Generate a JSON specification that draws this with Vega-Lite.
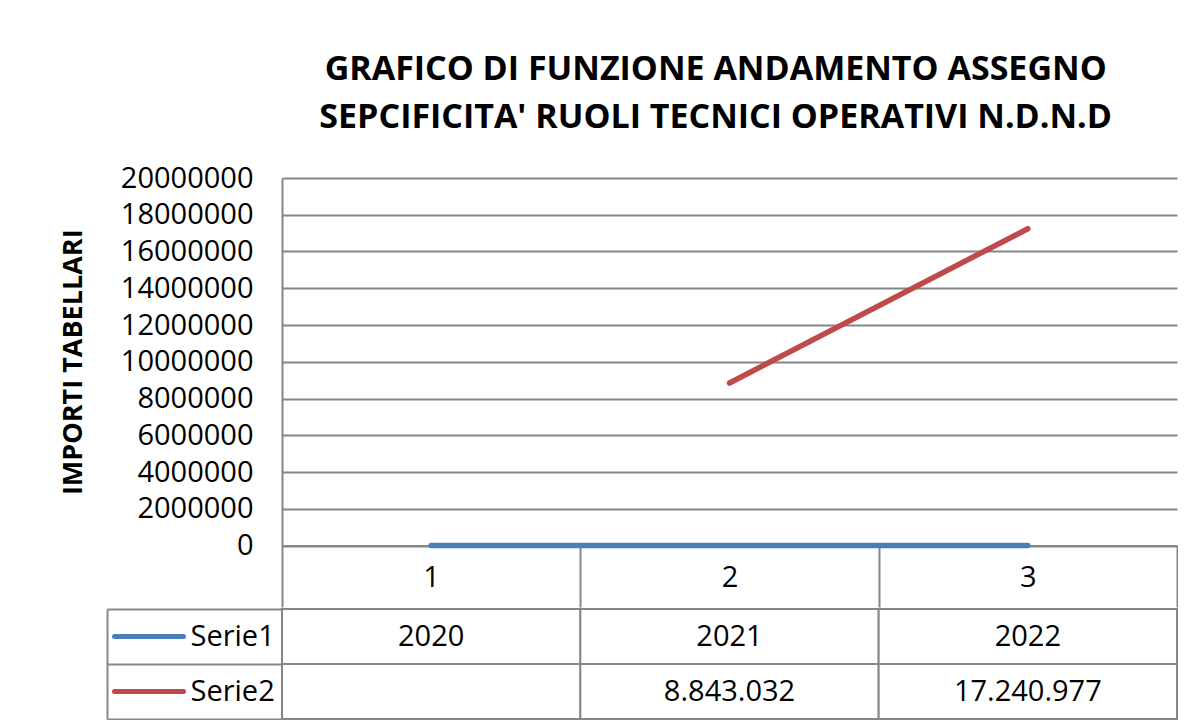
{
  "$schema": "https://vega.github.io/schema/vega-lite/v6.json",
  "padding": {"left": 59, "top": 53, "right": 0, "bottom": 0},
  "background": "white",
  "title": {
    "text": ["GRAFICO DI FUNZIONE ANDAMENTO ASSEGNO", "SEPCIFICITA' RUOLI TECNICI OPERATIVI N.D.N.D"],
    "font": "Open Sans",
    "fontWeight": "bold",
    "fontSize": 34,
    "lineHeight": 48,
    "color": "#000000",
    "anchor": "middle",
    "dx": 97,
    "offset": 29
  },
  "datasets": {
    "rows": [
      {"cat": "1", "serie": "Serie1", "value": 2020, "label": "2020"},
      {"cat": "2", "serie": "Serie1", "value": 2021, "label": "2021"},
      {"cat": "3", "serie": "Serie1", "value": 2022, "label": "2022"},
      {"cat": "1", "serie": "Serie2", "value": null, "label": ""},
      {"cat": "2", "serie": "Serie2", "value": 8843032, "label": "8.843.032"},
      {"cat": "3", "serie": "Serie2", "value": 17240977, "label": "17.240.977"}
    ]
  },
  "spacing": 0,
  "vconcat": [
    {
      "width": 895,
      "height": 367.5,
      "data": {"name": "rows"},
      "mark": {"type": "line", "strokeWidth": 5.5, "strokeCap": "round"},
      "encoding": {
        "x": {
          "field": "cat", "type": "nominal",
          "scale": {"type": "band", "paddingInner": 0, "paddingOuter": 0},
          "axis": {
            "title": null, "orient": "bottom", "labelAngle": 0,
            "domain": true, "domainColor": "#868686", "domainWidth": 2,
            "ticks": true, "tickBand": "extent", "tickSize": 61.5, "tickColor": "#868686", "tickWidth": 2,
            "labelFont": "Open Sans", "labelFontSize": 29, "labelColor": "#000000",
            "labelBaseline": "middle", "labelPadding": -29.5, "grid": false
          }
        },
        "y": {
          "field": "value", "type": "quantitative",
          "scale": {"domain": [0, 20000000], "nice": false},
          "axis": {
            "title": "IMPORTI TABELLARI", "titleFont": "Open Sans", "titleFontWeight": "bold",
            "titleFontSize": 27, "titleColor": "#000000", "titlePadding": 33,
            "values": [0, 2000000, 4000000, 6000000, 8000000, 10000000, 12000000, 14000000, 16000000, 18000000, 20000000],
            "format": "d",
            "labelFont": "Open Sans", "labelFontSize": 29, "labelColor": "#000000", "labelPadding": 29,
            "ticks": false, "domain": true, "domainColor": "#868686", "domainWidth": 2,
            "grid": true, "gridColor": "#868686", "gridWidth": 2
          }
        },
        "color": {
          "field": "serie", "type": "nominal",
          "scale": {"domain": ["Serie1", "Serie2"], "range": ["#4A7EBB", "#BE4B48"]},
          "legend": null
        }
      }
    },
    {
      "width": 895,
      "height": 110,
      "data": {"name": "rows"},
      "layer": [
        {
          "mark": {"type": "rect", "fill": "white", "stroke": "#868686", "strokeWidth": 2},
          "encoding": {
            "x": {"field": "cat", "type": "nominal", "scale": {"paddingInner": 0, "paddingOuter": 0}, "axis": null},
            "y": {
              "field": "serie", "type": "nominal",
              "scale": {"domain": ["Serie1", "Serie2"], "paddingInner": 0, "paddingOuter": 0},
              "axis": {
                "orient": "left", "title": null, "domain": false, "grid": false,
                "offset": 99, "ticks": true, "tickSize": 69, "tickWidth": 5, "tickCap": "round",
                "tickColor": {"condition": {"test": "datum.value === 'Serie1'", "value": "#4A7EBB"}, "value": "#BE4B48"},
                "labelAlign": "left", "labelBaseline": "middle", "labelPadding": -76,
                "labelFont": "Open Sans", "labelFontSize": 29, "labelColor": "#000000"
              }
            }
          }
        },
        {
          "mark": {"type": "text", "font": "Open Sans", "fontSize": 29, "color": "#000000"},
          "encoding": {
            "x": {"field": "cat", "type": "nominal", "scale": {"paddingInner": 0, "paddingOuter": 0}, "axis": null},
            "y": {
              "field": "serie", "type": "nominal",
              "scale": {"domain": ["Serie1", "Serie2"], "paddingInner": 0, "paddingOuter": 0},
              "axis": {
                "orient": "left", "title": null, "offset": 175,
                "domain": true, "domainColor": "#868686", "domainWidth": 2,
                "ticks": true, "tickBand": "extent", "tickSize": -175, "tickColor": "#868686", "tickWidth": 2,
                "labels": false, "grid": false
              }
            },
            "text": {"field": "label"}
          }
        }
      ],
      "resolve": {"scale": {"y": "independent"}, "axis": {"y": "independent"}}
    }
  ],
  "config": {"view": {"stroke": null}, "font": "Open Sans"}
}
